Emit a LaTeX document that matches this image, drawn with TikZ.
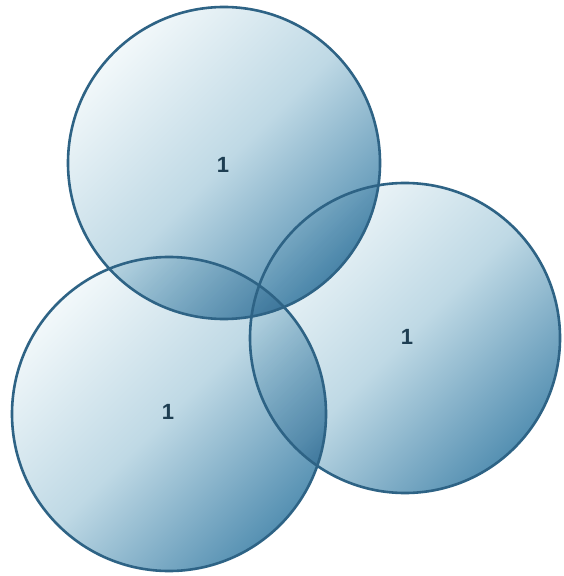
\documentclass[tikz,border=0pt]{standalone}
\usepackage{fontspec}
\setsansfont{Liberation Sans}
\begin{document}
\begin{tikzpicture}[x=0.5pt,y=-0.5pt,
  disc/.style={top color=cLight, bottom color=cDark, middle color=cMid, shading angle=45},
  rim/.style={draw=cLine, line width=1.3pt},
  lab/.style={font=\sffamily\bfseries\fontsize{11}{13}\selectfont, text=cText}]
\definecolor{cLight}{HTML}{F2F8FA}
\definecolor{cMid}{HTML}{BFD9E5}
\definecolor{cDark}{HTML}{5590B2}
\definecolor{cLine}{HTML}{2E6385}
\definecolor{cText}{HTML}{1E3E52}
\useasboundingbox (0,0) rectangle (563,576);
\fill[white] (0,0) rectangle (563,576);
\begin{scope}[blend group=multiply]
\shade[disc] (224,163) circle[radius=156];
\shade[disc] (405,338) circle[radius=155];
\shade[disc] (169,414) circle[radius=157];
\end{scope}
\draw[rim] (224,163) circle[radius=156];
\draw[rim] (405,338) circle[radius=155];
\draw[rim] (169,414) circle[radius=157];
\node[lab] (t) at (223,165) {1};
\node[lab] (r) at (407,337) {1};
\node[lab] (b) at (168,412) {1};
\end{tikzpicture}
\end{document}
